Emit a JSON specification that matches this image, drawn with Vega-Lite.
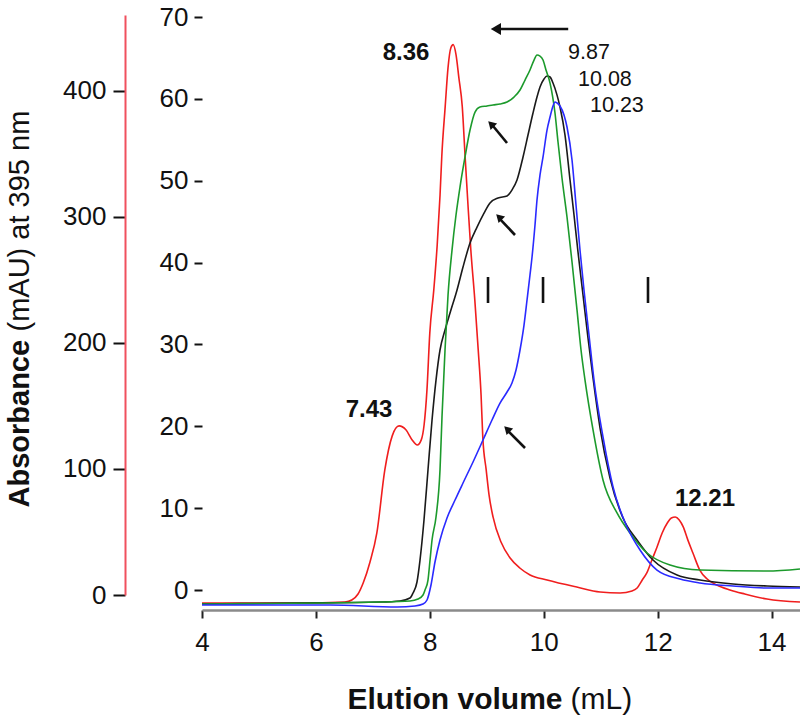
{
  "$schema": "https://vega.github.io/schema/vega-lite/v6.json",
  "width": 598,
  "height": 595,
  "autosize": {"type": "none"},
  "padding": {"left": 202, "top": 15, "right": 0, "bottom": 112},
  "background": "white",
  "config": {
    "view": {"stroke": null},
    "font": "Liberation Sans",
    "axis": {"grid": false, "labelFont": "Liberation Sans", "titleFont": "Liberation Sans", "labelColor": "#111111", "titleColor": "#111111"}
  },
  "datasets": {
    "red": [
      {"v": 4.00, "a": -6.3}, {"v": 5.72, "a": -6.3}, {"v": 6.51, "a": -5.6}, {"v": 6.63, "a": -4.0},
      {"v": 6.74, "a": 0.8}, {"v": 6.83, "a": 9.5}, {"v": 6.95, "a": 26.2}, {"v": 7.07, "a": 49.2},
      {"v": 7.21, "a": 99.2}, {"v": 7.34, "a": 126.2}, {"v": 7.46, "a": 134.1}, {"v": 7.58, "a": 131},
      {"v": 7.69, "a": 123}, {"v": 7.78, "a": 119}, {"v": 7.85, "a": 123}, {"v": 7.90, "a": 135},
      {"v": 7.95, "a": 162.7}, {"v": 8.00, "a": 207.9}, {"v": 8.07, "a": 242}, {"v": 8.13, "a": 277.8},
      {"v": 8.18, "a": 317.5}, {"v": 8.21, "a": 347.6}, {"v": 8.27, "a": 387.3}, {"v": 8.32, "a": 418.3},
      {"v": 8.37, "a": 434}, {"v": 8.41, "a": 436.5}, {"v": 8.46, "a": 428.6}, {"v": 8.51, "a": 410.3},
      {"v": 8.57, "a": 387.3}, {"v": 8.62, "a": 347.6}, {"v": 8.67, "a": 309.5}, {"v": 8.72, "a": 273.8},
      {"v": 8.79, "a": 234.1}, {"v": 8.85, "a": 194.4}, {"v": 8.90, "a": 158.7}, {"v": 8.93, "a": 125.4},
      {"v": 8.99, "a": 99.2}, {"v": 9.04, "a": 79.4}, {"v": 9.11, "a": 61.9}, {"v": 9.25, "a": 42},
      {"v": 9.41, "a": 29.4}, {"v": 9.58, "a": 21.4}, {"v": 9.76, "a": 15.9}, {"v": 10.06, "a": 11.9},
      {"v": 10.58, "a": 6.3}, {"v": 10.99, "a": 2.4}, {"v": 11.34, "a": 1.6}, {"v": 11.55, "a": 3.2},
      {"v": 11.64, "a": 5.6}, {"v": 11.73, "a": 11.9}, {"v": 11.81, "a": 17.5}, {"v": 11.90, "a": 27.8},
      {"v": 11.99, "a": 38.1}, {"v": 12.08, "a": 49.2}, {"v": 12.17, "a": 57.1}, {"v": 12.24, "a": 61.1},
      {"v": 12.31, "a": 61.9}, {"v": 12.38, "a": 59.5}, {"v": 12.45, "a": 54}, {"v": 12.53, "a": 43.7},
      {"v": 12.62, "a": 33.3}, {"v": 12.74, "a": 19.8}, {"v": 12.87, "a": 12.7}, {"v": 13.04, "a": 7.9},
      {"v": 13.27, "a": 4}, {"v": 13.53, "a": 0.8}, {"v": 13.92, "a": -3.2}, {"v": 14.50, "a": -5.6}
    ],
    "traces": [
      {"s": "10.08", "v": 4.000, "a": -1.71}, {"s": "10.08", "v": 5.721, "a": -1.59}, {"s": "10.08", "v": 7.126, "a": -1.47},
      {"s": "10.08", "v": 7.477, "a": -1.34}, {"s": "10.08", "v": 7.652, "a": -0.98}, {"s": "10.08", "v": 7.705, "a": -0.37},
      {"s": "10.08", "v": 7.775, "a": 0.98}, {"s": "10.08", "v": 7.828, "a": 3.66}, {"s": "10.08", "v": 7.898, "a": 8.55},
      {"s": "10.08", "v": 7.968, "a": 14.66}, {"s": "10.08", "v": 8.039, "a": 20.77}, {"s": "10.08", "v": 8.109, "a": 25.65},
      {"s": "10.08", "v": 8.179, "a": 29.32}, {"s": "10.08", "v": 8.267, "a": 31.76}, {"s": "10.08", "v": 8.355, "a": 33.84},
      {"s": "10.08", "v": 8.478, "a": 36.65}, {"s": "10.08", "v": 8.583, "a": 39.46}, {"s": "10.08", "v": 8.706, "a": 42.39},
      {"s": "10.08", "v": 8.829, "a": 44.34}, {"s": "10.08", "v": 8.952, "a": 46.05}, {"s": "10.08", "v": 9.057, "a": 47.28},
      {"s": "10.08", "v": 9.198, "a": 47.89}, {"s": "10.08", "v": 9.356, "a": 48.13}, {"s": "10.08", "v": 9.443, "a": 48.87},
      {"s": "10.08", "v": 9.531, "a": 50.09}, {"s": "10.08", "v": 9.637, "a": 52.90}, {"s": "10.08", "v": 9.724, "a": 55.58},
      {"s": "10.08", "v": 9.812, "a": 58.27}, {"s": "10.08", "v": 9.882, "a": 60.22}, {"s": "10.08", "v": 9.935, "a": 61.45},
      {"s": "10.08", "v": 10.005, "a": 62.42}, {"s": "10.08", "v": 10.058, "a": 62.79}, {"s": "10.08", "v": 10.111, "a": 62.67},
      {"s": "10.08", "v": 10.163, "a": 61.93}, {"s": "10.08", "v": 10.234, "a": 60.46}, {"s": "10.08", "v": 10.286, "a": 59.00},
      {"s": "10.08", "v": 10.374, "a": 55.58}, {"s": "10.08", "v": 10.462, "a": 50.09}, {"s": "10.08", "v": 10.532, "a": 45.81},
      {"s": "10.08", "v": 10.602, "a": 41.29}, {"s": "10.08", "v": 10.690, "a": 36.04}, {"s": "10.08", "v": 10.778, "a": 30.78},
      {"s": "10.08", "v": 10.866, "a": 25.90}, {"s": "10.08", "v": 10.989, "a": 19.79}, {"s": "10.08", "v": 11.164, "a": 13.68},
      {"s": "10.08", "v": 11.392, "a": 8.80}, {"s": "10.08", "v": 11.638, "a": 6.11}, {"s": "10.08", "v": 11.919, "a": 3.66},
      {"s": "10.08", "v": 12.341, "a": 1.83}, {"s": "10.08", "v": 12.745, "a": 1.22}, {"s": "10.08", "v": 13.324, "a": 0.73},
      {"s": "10.08", "v": 13.921, "a": 0.49}, {"s": "10.08", "v": 14.5, "a": 0.37},

      {"s": "9.87", "v": 4.000, "a": -1.71}, {"s": "9.87", "v": 7.126, "a": -1.47}, {"s": "9.87", "v": 7.652, "a": -1.34},
      {"s": "9.87", "v": 7.793, "a": -1.10}, {"s": "9.87", "v": 7.881, "a": -0.61}, {"s": "9.87", "v": 7.916, "a": 0},
      {"s": "9.87", "v": 7.968, "a": 1.22}, {"s": "9.87", "v": 8.004, "a": 3.66}, {"s": "9.87", "v": 8.039, "a": 6.11},
      {"s": "9.87", "v": 8.109, "a": 8.92}, {"s": "9.87", "v": 8.179, "a": 14.66}, {"s": "9.87", "v": 8.214, "a": 21.13},
      {"s": "9.87", "v": 8.267, "a": 29.32}, {"s": "9.87", "v": 8.320, "a": 36.04}, {"s": "9.87", "v": 8.390, "a": 41.53},
      {"s": "9.87", "v": 8.460, "a": 45.81}, {"s": "9.87", "v": 8.530, "a": 49.23}, {"s": "9.87", "v": 8.618, "a": 52.90},
      {"s": "9.87", "v": 8.706, "a": 56.19}, {"s": "9.87", "v": 8.794, "a": 58.39}, {"s": "9.87", "v": 8.881, "a": 59.00},
      {"s": "9.87", "v": 9.004, "a": 59.13}, {"s": "9.87", "v": 9.110, "a": 59.25}, {"s": "9.87", "v": 9.233, "a": 59.37},
      {"s": "9.87", "v": 9.356, "a": 59.61}, {"s": "9.87", "v": 9.478, "a": 60.22}, {"s": "9.87", "v": 9.584, "a": 61.08},
      {"s": "9.87", "v": 9.672, "a": 62.30}, {"s": "9.87", "v": 9.759, "a": 63.52}, {"s": "9.87", "v": 9.830, "a": 64.74},
      {"s": "9.87", "v": 9.882, "a": 65.35}, {"s": "9.87", "v": 9.935, "a": 65.23}, {"s": "9.87", "v": 9.988, "a": 64.74},
      {"s": "9.87", "v": 10.040, "a": 63.52}, {"s": "9.87", "v": 10.111, "a": 61.93}, {"s": "9.87", "v": 10.198, "a": 58.27},
      {"s": "9.87", "v": 10.251, "a": 54.73}, {"s": "9.87", "v": 10.321, "a": 50.33}, {"s": "9.87", "v": 10.409, "a": 45.57},
      {"s": "9.87", "v": 10.497, "a": 40.07}, {"s": "9.87", "v": 10.585, "a": 34.20}, {"s": "9.87", "v": 10.655, "a": 29.32},
      {"s": "9.87", "v": 10.725, "a": 25.65}, {"s": "9.87", "v": 10.866, "a": 19.55}, {"s": "9.87", "v": 11.041, "a": 13.44},
      {"s": "9.87", "v": 11.287, "a": 9.41}, {"s": "9.87", "v": 11.515, "a": 6.96}, {"s": "9.87", "v": 11.814, "a": 4.52},
      {"s": "9.87", "v": 12.218, "a": 3.05}, {"s": "9.87", "v": 12.745, "a": 2.44}, {"s": "9.87", "v": 13.921, "a": 2.32},
      {"s": "9.87", "v": 14.5, "a": 2.57},

      {"s": "10.23", "v": 4.000, "a": -1.83}, {"s": "10.23", "v": 6.248, "a": -1.83}, {"s": "10.23", "v": 7.424, "a": -2.08},
      {"s": "10.23", "v": 7.740, "a": -1.95}, {"s": "10.23", "v": 7.881, "a": -1.71}, {"s": "10.23", "v": 7.951, "a": -1.22},
      {"s": "10.23", "v": 8.021, "a": 0.61}, {"s": "10.23", "v": 8.091, "a": 3.42}, {"s": "10.23", "v": 8.179, "a": 6.11},
      {"s": "10.23", "v": 8.302, "a": 8.80}, {"s": "10.23", "v": 8.443, "a": 10.99}, {"s": "10.23", "v": 8.583, "a": 13.07},
      {"s": "10.23", "v": 8.759, "a": 15.64}, {"s": "10.23", "v": 8.934, "a": 18.32}, {"s": "10.23", "v": 9.092, "a": 20.77},
      {"s": "10.23", "v": 9.233, "a": 22.84}, {"s": "10.23", "v": 9.356, "a": 24.19}, {"s": "10.23", "v": 9.443, "a": 25.29},
      {"s": "10.23", "v": 9.514, "a": 26.88}, {"s": "10.23", "v": 9.584, "a": 29.32}, {"s": "10.23", "v": 9.654, "a": 32.37},
      {"s": "10.23", "v": 9.707, "a": 35.43}, {"s": "10.23", "v": 9.759, "a": 38.48}, {"s": "10.23", "v": 9.795, "a": 40.68},
      {"s": "10.23", "v": 9.847, "a": 44.59}, {"s": "10.23", "v": 9.882, "a": 47.64}, {"s": "10.23", "v": 9.935, "a": 50.70},
      {"s": "10.23", "v": 9.988, "a": 52.90}, {"s": "10.23", "v": 10.058, "a": 56.19}, {"s": "10.23", "v": 10.111, "a": 57.78},
      {"s": "10.23", "v": 10.163, "a": 59.13}, {"s": "10.23", "v": 10.198, "a": 59.61}, {"s": "10.23", "v": 10.234, "a": 59.49},
      {"s": "10.23", "v": 10.286, "a": 59.13}, {"s": "10.23", "v": 10.356, "a": 58.02}, {"s": "10.23", "v": 10.409, "a": 56.56},
      {"s": "10.23", "v": 10.497, "a": 52.53}, {"s": "10.23", "v": 10.567, "a": 47.03}, {"s": "10.23", "v": 10.637, "a": 41.53},
      {"s": "10.23", "v": 10.707, "a": 36.65}, {"s": "10.23", "v": 10.795, "a": 31.15}, {"s": "10.23", "v": 10.883, "a": 25.65},
      {"s": "10.23", "v": 11.041, "a": 18.69}, {"s": "10.23", "v": 11.217, "a": 12.58}, {"s": "10.23", "v": 11.463, "a": 7.70},
      {"s": "10.23", "v": 11.691, "a": 4.89}, {"s": "10.23", "v": 11.989, "a": 2.44}, {"s": "10.23", "v": 12.393, "a": 1.34},
      {"s": "10.23", "v": 12.745, "a": 0.86}, {"s": "10.23", "v": 13.324, "a": 0.49}, {"s": "10.23", "v": 13.921, "a": 0.24},
      {"s": "10.23", "v": 14.5, "a": 0.24}
    ],
    "redLabels": [
      {"v": 7.582, "a": 430.2, "t": "8.36"},
      {"v": 6.932, "a": 146.8, "t": "7.43"},
      {"v": 12.832, "a": 76.2, "t": "12.21"}
    ],
    "peakLabels": [
      {"v": 10.427, "a": 65.6, "t": "9.87"},
      {"v": 10.602, "a": 62.3, "t": "10.08"},
      {"v": 10.813, "a": 59.1, "t": "10.23"}
    ],
    "segments": [
      {"v": 9.022, "v2": 9.022, "a": 35.06, "a2": 38.24},
      {"v": 9.988, "v2": 9.988, "a": 35.06, "a2": 38.24},
      {"v": 11.831, "v2": 11.831, "a": 35.06, "a2": 38.24},
      {"v": 9.25, "v2": 10.43, "a": 68.53, "a2": 68.53},
      {"v": 9.110, "v2": 9.356, "a": 56.68, "a2": 54.61},
      {"v": 9.233, "v2": 9.496, "a": 45.32, "a2": 43.37},
      {"v": 9.373, "v2": 9.672, "a": 19.42, "a2": 17.35}
    ],
    "bigHead": [
      {"v": 9.16, "a": 68.53}
    ],
    "smallHeads": [
      {"v": 9.075, "a": 56.93},
      {"v": 9.215, "a": 45.57},
      {"v": 9.356, "a": 19.67}
    ]
  },
  "resolve": {"scale": {"y": "independent"}, "axis": {"x": "independent"}},
  "layer": [
    {
      "data": {"name": "red"},
      "mark": {"type": "line", "color": "#f01e1e", "strokeWidth": 1.6, "interpolate": "monotone"},
      "encoding": {
        "x": {
          "field": "v", "type": "quantitative",
          "scale": {"domain": [4, 14.5], "nice": false, "zero": false},
          "axis": {
            "orient": "bottom", "values": [4, 6, 8, 10, 12, 14], "format": "d",
            "title": "Elution volume", "titleFontSize": 30, "titleFontWeight": "bold",
            "titleAlign": "left", "titleBaseline": "alphabetic", "titleX": 145, "titleY": 98,
            "labelFontSize": 26, "labelPadding": 11, "labelFlush": false,
            "tickSize": 8, "tickWidth": 2, "tickColor": "#222222",
            "domainColor": "#8a8a8a", "domainWidth": 2.5
          }
        },
        "y": {
          "field": "a", "type": "quantitative",
          "scale": {"domain": [0, 460], "range": [580, 0], "nice": false, "zero": false},
          "axis": {
            "orient": "left", "offset": 77, "values": [0, 100, 200, 300, 400],
            "title": "Absorbance", "titleFontSize": 29, "titleFontWeight": "bold",
            "titleAngle": 270, "titleAlign": "left", "titleBaseline": "alphabetic",
            "titleX": -97, "titleY": 492,
            "labelFontSize": 26, "labelPadding": 7, "labelFlush": false,
            "tickSize": 12, "tickWidth": 2, "tickColor": "#111111",
            "domainColor": "#f0505e", "domainWidth": 2
          }
        }
      }
    },
    {
      "data": {"name": "redLabels"},
      "mark": {"type": "text", "fontSize": 24, "fontWeight": "bold", "color": "#111111", "align": "center", "baseline": "middle", "font": "Liberation Sans"},
      "encoding": {
        "x": {
          "field": "v", "type": "quantitative",
          "axis": {
            "orient": "bottom", "title": "(mL)", "labels": false, "ticks": false, "domain": false,
            "titleFontSize": 30, "titleFontWeight": "normal",
            "titleAlign": "left", "titleBaseline": "alphabetic", "titleX": 368, "titleY": 98
          }
        },
        "y": {
          "field": "a", "type": "quantitative",
          "scale": {"domain": [0, 460], "range": [580, 0], "nice": false, "zero": false},
          "axis": {
            "orient": "left", "offset": 77, "title": "(mAU) at 395 nm",
            "labels": false, "ticks": false, "domain": false,
            "titleFontSize": 29, "titleFontWeight": "normal",
            "titleAngle": 270, "titleAlign": "left", "titleBaseline": "alphabetic",
            "titleX": -97, "titleY": 316
          }
        },
        "text": {"field": "t"}
      }
    },
    {
      "data": {"name": "traces"},
      "mark": {"type": "line", "strokeWidth": 1.6, "interpolate": "monotone"},
      "encoding": {
        "x": {"field": "v", "type": "quantitative", "axis": null},
        "y": {
          "field": "a", "type": "quantitative",
          "scale": {"domain": [0, 70], "range": [575, 2], "nice": false, "zero": false},
          "axis": {
            "orient": "left", "values": [0, 10, 20, 30, 40, 50, 60, 70], "title": null,
            "domain": false, "labelFontSize": 26, "labelPadding": 6, "labelFlush": false,
            "tickSize": 8, "tickWidth": 2, "tickColor": "#111111"
          }
        },
        "color": {
          "field": "s", "type": "nominal",
          "scale": {"domain": ["10.08", "9.87", "10.23"], "range": ["#1a1a1a", "#1c9a2c", "#2a2aff"]},
          "legend": null
        }
      }
    },
    {
      "data": {"name": "peakLabels"},
      "mark": {"type": "text", "fontSize": 21.5, "color": "#111111", "align": "left", "baseline": "middle", "font": "Liberation Sans"},
      "encoding": {
        "x": {"field": "v", "type": "quantitative", "axis": null},
        "y": {"field": "a", "type": "quantitative", "scale": {"domain": [0, 70], "range": [575, 2], "nice": false, "zero": false}, "axis": null},
        "text": {"field": "t"}
      }
    },
    {
      "data": {"name": "segments"},
      "mark": {"type": "rule", "color": "#111111", "strokeWidth": 2.6},
      "encoding": {
        "x": {"field": "v", "type": "quantitative", "axis": null},
        "x2": {"field": "v2"},
        "y": {"field": "a", "type": "quantitative", "scale": {"domain": [0, 70], "range": [575, 2], "nice": false, "zero": false}, "axis": null},
        "y2": {"field": "a2"}
      }
    },
    {
      "data": {"name": "bigHead"},
      "mark": {"type": "point", "shape": "triangle-left", "filled": true, "size": 140, "color": "#111111", "opacity": 1},
      "encoding": {
        "x": {"field": "v", "type": "quantitative", "axis": null},
        "y": {"field": "a", "type": "quantitative", "scale": {"domain": [0, 70], "range": [575, 2], "nice": false, "zero": false}, "axis": null}
      }
    },
    {
      "data": {"name": "smallHeads"},
      "mark": {"type": "point", "shape": "triangle-up", "filled": true, "size": 85, "angle": 315, "color": "#111111", "opacity": 1},
      "encoding": {
        "x": {"field": "v", "type": "quantitative", "axis": null},
        "y": {"field": "a", "type": "quantitative", "scale": {"domain": [0, 70], "range": [575, 2], "nice": false, "zero": false}, "axis": null}
      }
    }
  ]
}
